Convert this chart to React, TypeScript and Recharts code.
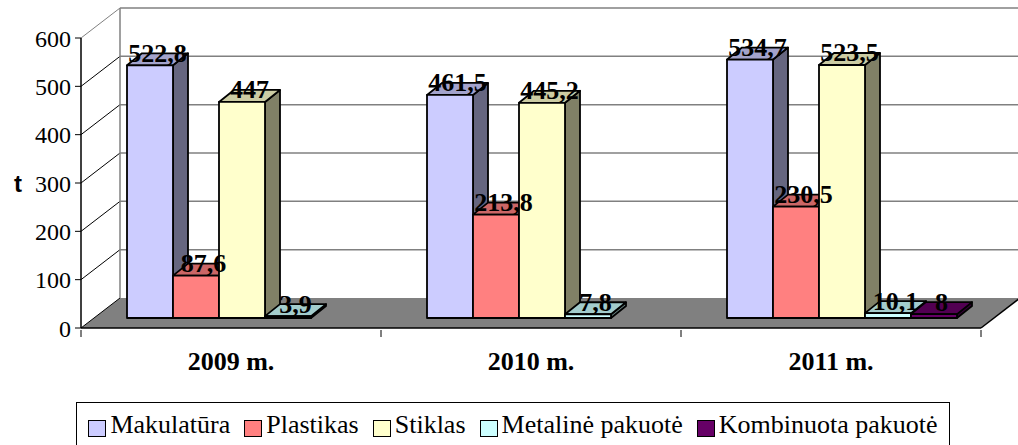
import React from "react";
import { BarChart, Bar, XAxis, YAxis, CartesianGrid, Legend, LabelList } from "recharts";

// data
const years = ["2009 m.", "2010 m.", "2011 m."];
const makulatura = [522.8, 461.5, 534.7];
const plastikas = [87.6, 213.8, 230.5];
const stiklas = [447, 445.2, 523.5];
const metaline = [3.9, 7.8, 10.1];
const kombinuota = [null, null, 8];
const yTicks = [0, 100, 200, 300, 400, 500, 600];

const series = [
  { key: "mak", name: "Makulatūra", front: "#CCCCFF", top: "#A3A3CC", side: "#666680" },
  { key: "pla", name: "Plastikas", front: "#FF8080", top: "#CC6666", side: "#804040" },
  { key: "sti", name: "Stiklas", front: "#FFFFCC", top: "#CCCCA3", side: "#808066" },
  { key: "met", name: "Metalinė pakuotė", front: "#CCFFFF", top: "#A3CCCC", side: "#668080" },
  { key: "kom", name: "Kombinuota pakuotė", front: "#660066", top: "#520052", side: "#330033" },
];

const data = years.map((year, i) => ({
  year,
  mak: makulatura[i],
  pla: plastikas[i],
  sti: stiklas[i],
  met: metaline[i],
  kom: kombinuota[i],
}));

const W = 1018;
const H = 445;
const PLOT_LEFT = 81;
const PLOT_RIGHT = 981;
const PLOT_TOP = 38;
const PLOT_BOTTOM = 328;
// depth of the 3d box (back wall offset)
const DX = 39;
const DY = 30;
// bars sit a bit behind the front edge
const OX = 12;
const OY = 10;
// bar depth
const BX = 15;
const BY = 12;

const SERIF = "Liberation Serif, Tinos, Times New Roman, DejaVu Serif, Noto Serif, serif";

const fmt = (v: number) => String(v).replace(".", ",");

function gridLine(p: any) {
  const { x1, x2, y1 } = p;
  const top = p.y ?? PLOT_TOP;
  const bottom = p.height != null && p.y != null ? p.y + p.height : PLOT_BOTTOM;
  const bx1 = x1 + DX;
  const bx2 = x2 + DX;
  const by = y1 - DY;
  if (Math.abs(y1 - bottom) < 0.5) {
    return (
      <g key={p.key}>
        <polygon points={`${x1},${y1} ${x2},${y1} ${bx2},${by} ${bx1},${by}`} fill="#808080" />
        <line x1={x1} y1={y1} x2={bx1} y2={by} stroke="#000" strokeWidth={1} />
        <line x1={x2} y1={y1} x2={bx2} y2={by} stroke="#000" strokeWidth={1.5} />
      </g>
    );
  }
  const isTop = Math.abs(y1 - top) < 0.5;
  return (
    <g key={p.key}>
      <line x1={x1} y1={y1} x2={bx1} y2={by} stroke={isTop ? "#808080" : "#000"} strokeWidth={1} />
      <line x1={bx1} y1={by} x2={bx2} y2={by} stroke="#808080" strokeWidth={1.5} />
      {isTop && <line x1={bx1} y1={by} x2={bx1} y2={bottom - DY} stroke="#808080" strokeWidth={1.5} />}
    </g>
  );
}

function Box3D(props: any) {
  const { x, y, width, height, front, top, side } = props;
  if (x == null || y == null || !width) return null;
  const h = Math.max(height || 0, 0);
  const fx = x + OX;
  const fy = y - OY;
  const sw = 1.8;
  return (
    <g strokeLinejoin="round">
      <polygon
        points={`${fx + width},${fy} ${fx + width + BX},${fy - BY} ${fx + width + BX},${fy + h - BY} ${fx + width},${fy + h}`}
        fill={side}
        stroke="#000"
        strokeWidth={sw}
      />
      <polygon
        points={`${fx},${fy} ${fx + width},${fy} ${fx + width + BX},${fy - BY} ${fx + BX},${fy - BY}`}
        fill={top}
        stroke="#000"
        strokeWidth={sw}
      />
      <rect x={fx} y={fy} width={width} height={h} fill={front} stroke="#000" strokeWidth={sw} />
    </g>
  );
}

function ValueLabel(props: any) {
  const { x, y, width, value } = props;
  if (value == null || x == null) return null;
  return (
    <text
      x={x + OX + width / 2 + BX / 2}
      y={y - OY - BY}
      textAnchor="middle"
      dominantBaseline="central"
      style={{ fontFamily: SERIF, fontWeight: "bold", fontSize: 26 }}
      fill="#000"
    >
      {fmt(value)}
    </text>
  );
}

function YearTick(props: any) {
  const { x, y, payload, index } = props;
  const band = (PLOT_RIGHT - PLOT_LEFT) / years.length;
  return (
    <g>
      <line x1={x - band / 2} y1={y} x2={x - band / 2} y2={y + 7} stroke="#000" strokeWidth={1} />
      {index === years.length - 1 && (
        <line x1={x + band / 2} y1={y} x2={x + band / 2} y2={y + 7} stroke="#000" strokeWidth={1} />
      )}
      <text
        x={x}
        y={y + 31}
        textAnchor="middle"
        dominantBaseline="central"
        style={{ fontFamily: SERIF, fontWeight: "bold", fontSize: 26 }}
        fill="#000"
      >
        {payload.value}
      </text>
    </g>
  );
}

function LegendBox() {
  return (
    <div
      style={{
        boxSizing: "border-box",
        width: 874,
        height: 46,
        border: "1px solid #000",
        display: "flex",
        alignItems: "flex-start",
        justifyContent: "center",
        gap: 14,
        paddingTop: 9,
        fontFamily: SERIF,
        fontSize: 26,
        lineHeight: "25px",
        color: "#000",
        whiteSpace: "nowrap",
      }}
    >
      {series.map((s) => (
        <span key={s.key} style={{ display: "flex", alignItems: "flex-start" }}>
          <span
            style={{
              boxSizing: "border-box",
              display: "inline-block",
              width: 18,
              height: 17,
              marginTop: 8,
              marginRight: 4,
              border: "1.5px solid #000",
              background: s.front,
            }}
          />
          {s.name}
        </span>
      ))}
    </div>
  );
}

export default function App() {
  return (
    <div style={{ position: "absolute", left: 0, top: 0, width: W, height: H, background: "#fff", fontFamily: SERIF }}>
      <BarChart
        width={W}
        height={H}
        data={data}
        margin={{ top: PLOT_TOP, right: W - PLOT_RIGHT, left: 6, bottom: H - PLOT_BOTTOM - 40 }}
        barCategoryGap={34}
        barGap={0}
        style={{ fontFamily: SERIF }}
      >
        <CartesianGrid vertical={false} horizontal={gridLine} fill="none" />
        <XAxis
          dataKey="year"
          height={40}
          interval={0}
          tickSize={0}
          tickLine={false}
          axisLine={{ stroke: "#000", strokeWidth: 1.5 }}
          tick={YearTick}
        />
        <YAxis
          width={75}
          domain={[0, 600]}
          ticks={yTicks}
          interval={0}
          tickSize={6}
          tickMargin={4}
          axisLine={{ stroke: "#000", strokeWidth: 1.5 }}
          tickLine={{ stroke: "#000" }}
          tick={{ fill: "#000", fontSize: 24, style: { fontFamily: SERIF } }}
          label={{
            value: "t",
            position: "insideLeft",
            offset: 8,
            style: { fill: "#000", fontSize: 24, fontWeight: "bold", fontFamily: "Liberation Sans, Arimo, Arial, sans-serif" },
          }}
        />
        {series.map((s) => (
          <Bar
            key={s.key}
            dataKey={s.key}
            name={s.name}
            fill={s.front}
            isAnimationActive={false}
            shape={(p: any) => <Box3D {...p} front={s.front} top={s.top} side={s.side} />}
          >
            <LabelList dataKey={s.key} content={ValueLabel} />
          </Bar>
        ))}
        <Legend
          layout="horizontal"
          verticalAlign="middle"
          align="center"
          wrapperStyle={{ top: 402, left: 76, width: 874, height: 46 }}
          content={() => <LegendBox />}
        />
      </BarChart>
    </div>
  );
}
